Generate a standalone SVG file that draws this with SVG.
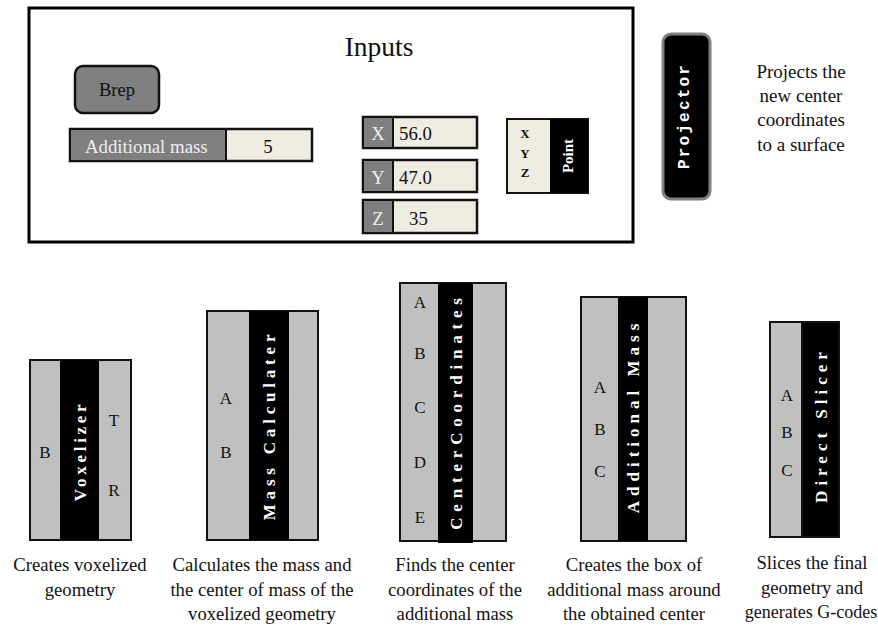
<svg xmlns="http://www.w3.org/2000/svg" width="878" height="626" viewBox="0 0 878 626" font-family="'Liberation Serif', 'DejaVu Serif', 'Times New Roman', serif">
<style>
text{font-family:"Liberation Serif","DejaVu Serif","Times New Roman",serif;fill:#111}
.cap{font-size:18.7px;text-anchor:middle}
.lbl{font-size:17px;text-anchor:middle}
.vt{font-size:17px;font-weight:bold;fill:#fff;text-anchor:middle;dominant-baseline:central}
.g{fill:#c0c0c0;stroke:#111;stroke-width:2}
.k{fill:#000}
.fld{font-size:18.8px}
.cream{fill:#efede2}
.dk{fill:#7f7f7f}
.wt{fill:#eee}
</style>
<rect width="878" height="626" fill="#fff"/>
<g id="inputs">
<rect x="29" y="8" width="604" height="234" fill="#fff" stroke="#000" stroke-width="3"/>
<text x="379" y="56" font-size="27.5" text-anchor="middle">Inputs</text>
</g>
<g id="brep">
<rect x="75" y="66" width="84" height="47" rx="8" fill="#808080" stroke="#111" stroke-width="2.5"/>
<text x="117" y="96" font-size="18.5" text-anchor="middle">Brep</text>
</g>
<g id="additional-mass-slider">
<rect x="70" y="129" width="242" height="32" class="cream" stroke="#111" stroke-width="2.5"/>
<rect x="71" y="130" width="155" height="30" class="dk"/>
<line x1="226" y1="130" x2="226" y2="160" stroke="#111" stroke-width="2"/>
<text x="85" y="153" class="fld wt">Additional mass</text>
<text x="268" y="153" class="fld" text-anchor="middle">5</text>
</g>
<g id="x-field">
<rect x="363" y="117" width="114" height="31" class="cream" stroke="#111" stroke-width="2.5"/>
<rect x="364" y="118" width="29" height="29" class="dk"/>
<line x1="393" y1="118" x2="393" y2="147" stroke="#111" stroke-width="2"/>
<text x="378" y="140" class="fld wt" text-anchor="middle">X</text>
<text x="399" y="140" class="fld">56.0</text>
</g>
<g id="y-field">
<rect x="363" y="160" width="114" height="32" class="cream" stroke="#111" stroke-width="2.5"/>
<rect x="364" y="161" width="29" height="30" class="dk"/>
<line x1="393" y1="161" x2="393" y2="191" stroke="#111" stroke-width="2"/>
<text x="378" y="184" class="fld wt" text-anchor="middle">Y</text>
<text x="399" y="184" class="fld">47.0</text>
</g>
<g id="z-field">
<rect x="363" y="200" width="114" height="33" class="cream" stroke="#111" stroke-width="2.5"/>
<rect x="364" y="201" width="29" height="31" class="dk"/>
<line x1="393" y1="201" x2="393" y2="232" stroke="#111" stroke-width="2"/>
<text x="378" y="225" class="fld wt" text-anchor="middle">Z</text>
<text x="409" y="225" class="fld">35</text>
</g>
<g id="point">
<rect x="507" y="119" width="81" height="74" class="cream" stroke="#111" stroke-width="2"/>
<rect x="550" y="119" width="38" height="74" class="k"/>
<text x="525" y="138" font-size="13" font-weight="bold" text-anchor="middle">X</text>
<text x="525" y="158" font-size="13" font-weight="bold" text-anchor="middle">Y</text>
<text x="525" y="177" font-size="13" font-weight="bold" text-anchor="middle">Z</text>
<text class="vt" transform="translate(568 156) rotate(-90)" style="font-size:15px">Point</text>
</g>
<g id="projector">
<rect x="663" y="34" width="47" height="165" rx="8" fill="#000" stroke="#808080" stroke-width="3"/>
<text transform="translate(685 116) rotate(-90)" style="font-family:'Liberation Mono','Courier New',monospace;font-size:16px;font-weight:bold;fill:#fff;letter-spacing:2.2px;text-anchor:middle;dominant-baseline:central">Projector</text>
<text x="801" y="78" font-size="19" text-anchor="middle">Projects the</text>
<text x="801" y="102" font-size="19" text-anchor="middle">new center</text>
<text x="801" y="126" font-size="19" text-anchor="middle">coordinates</text>
<text x="801" y="151" font-size="19" text-anchor="middle">to a surface</text>
</g>
<g id="voxelizer">
<rect x="30" y="360" width="101" height="180" class="g"/>
<rect x="60" y="360" width="39" height="180" class="k"/>
<text x="45" y="458" class="lbl">B</text>
<text x="114" y="426" class="lbl">T</text>
<text x="114" y="496" class="lbl">R</text>
<text class="vt" transform="translate(80 451) rotate(-90)" style="letter-spacing:3.7px">Voxelizer</text>
<text x="80" y="571" class="cap">Creates voxelized</text>
<text x="80" y="596" class="cap">geometry</text>
</g>
<g id="mass-calculater">
<rect x="207" y="311" width="111" height="229" class="g"/>
<rect x="249" y="311" width="40" height="229" class="k"/>
<text x="226" y="404" class="lbl">A</text>
<text x="226" y="458" class="lbl">B</text>
<text class="vt" transform="translate(269 425) rotate(-90)" style="letter-spacing:4.8px">Mass Calculater</text>
<text x="262" y="571" class="cap">Calculates the mass and</text>
<text x="262" y="596" class="cap">the center of mass of the</text>
<text x="262" y="620" class="cap">voxelized geometry</text>
</g>
<g id="center-coordinates">
<rect x="400" y="283" width="106" height="258" class="g"/>
<rect x="438" y="283" width="35" height="260" class="k"/>
<text x="420" y="308" class="lbl">A</text>
<text x="420" y="359" class="lbl">B</text>
<text x="420" y="413" class="lbl">C</text>
<text x="420" y="468" class="lbl">D</text>
<text x="420" y="523" class="lbl">E</text>
<text class="vt" transform="translate(456 411) rotate(-90)" style="letter-spacing:5.8px">CenterCoordinates</text>
<text x="455" y="571" class="cap">Finds the center</text>
<text x="455" y="596" class="cap">coordinates of the</text>
<text x="455" y="620" class="cap">additional mass</text>
</g>
<g id="additional-mass">
<rect x="581" y="297" width="105" height="244" class="g"/>
<rect x="618" y="297" width="30" height="244" class="k"/>
<text x="600" y="393" class="lbl">A</text>
<text x="600" y="435" class="lbl">B</text>
<text x="600" y="477" class="lbl">C</text>
<text class="vt" transform="translate(633 416) rotate(-90)" style="letter-spacing:5px">Additional Mass</text>
<text x="634" y="571" class="cap">Creates the box of</text>
<text x="634" y="596" class="cap">additional mass around</text>
<text x="634" y="620" class="cap">the obtained center</text>
</g>
<g id="direct-slicer">
<rect x="770" y="322" width="69" height="215" class="g"/>
<rect x="802" y="322" width="37" height="215" class="k" stroke="#111" stroke-width="2"/>
<text x="787" y="401" class="lbl">A</text>
<text x="787" y="438" class="lbl">B</text>
<text x="787" y="476" class="lbl">C</text>
<text class="vt" transform="translate(821 425) rotate(-90)" style="letter-spacing:5px">Direct Slicer</text>
<text x="812" y="569" class="cap">Slices the final</text>
<text x="812" y="594" class="cap">geometry and</text>
<text x="811" y="618" class="cap" style="font-size:18px">generates G-codes</text>
</g>
<g id="connectors"/>
</svg>
